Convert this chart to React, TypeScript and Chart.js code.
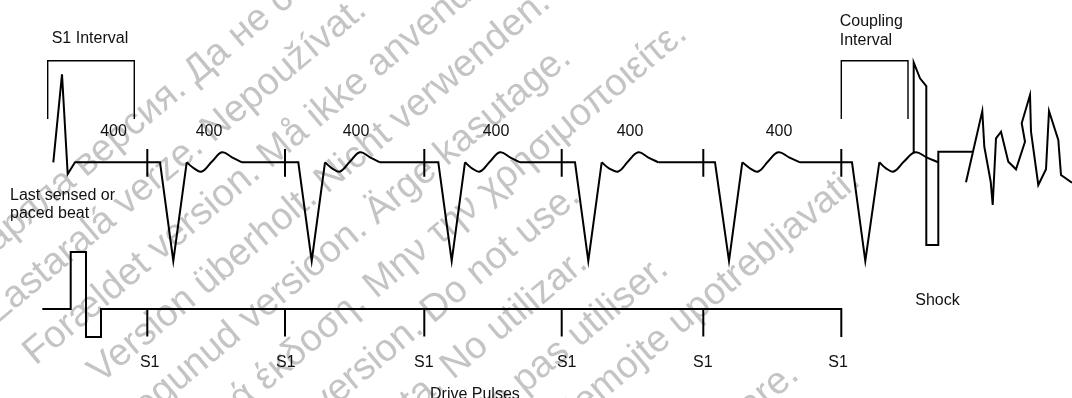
import React, { useEffect, useRef } from "react";
import { Chart, registerables } from "chart.js";

Chart.register(...registerables);

const W = 1072;
const H = 398;

// ---- upper trace: straight parts (null = pen lift) ----
const ecgX = [
  53.3, 62, 67.7, 75, 160, 173.3, 186.7, null,
  242, 298.3, 311.7, 325, null,
  380, 438.3, 451.7, 465, null,
  520, 575, 588.3, 601.7, null,
  658.3, 715, 729, 742.3, null,
  800, 852, 865.3, 879.3,
];
const ecgY = [
  162.3, 74.3, 174, 162.3, 162.3, 261, 162.3, null,
  162.3, 162.3, 261, 162.3, null,
  162.3, 162.3, 261, 162.3, null,
  162.3, 162.3, 261, 162.3, null,
  162.3, 162.3, 261, 162.3, null,
  162.3, 162.3, 261, 162.3,
];

// ---- T waves (smoothed) ----
const waveX = [
  186.7, 194, 201.7, 212, 222, 232, 242, null,
  325, 332, 340, 350, 360, 370, 380, null,
  465, 472, 480, 490, 500, 510, 520, null,
  601.7, 609, 618.3, 628, 638.3, 648, 658.3, null,
  742.3, 750, 758.3, 768, 778.3, 789, 800, null,
  879.3, 886, 893.7, 904, 915.3, 926.5, 938.3,
];
const waveY = [
  162.3, 168.3, 171.5, 161.5, 152.3, 157.3, 162.3, null,
  162.3, 168.3, 171.5, 161.5, 152.3, 157.3, 162.3, null,
  162.3, 168.3, 171.5, 161.5, 152.3, 157.3, 162.3, null,
  162.3, 168.3, 171.5, 161.5, 152.3, 157.3, 162.3, null,
  162.3, 168.3, 171.5, 161.5, 152.3, 157.3, 162.3, null,
  162.3, 168.3, 171.5, 161.5, 152.3, 157.3, 162.3,
];

// ---- shock pulse ----
const shockX = [913.7, 913.7, 920, 926.3, 926.3, 938.3, 938.3, 972.3];
const shockY = [153, 62.5, 78.3, 86, 245, 245, 151.7, 151.7];

// ---- fibrillation ----
const vfX = [966, 982.3, 984.3, 990.7, 992.7, 996, 1001, 1008.3, 1016, 1025, 1021.7, 1030, 1031, 1038.3, 1046, 1049, 1058.3, 1061, 1072];
const vfY = [182.3, 111, 146.7, 181.7, 205, 138.3, 131.7, 161.7, 169.3, 141.7, 123.3, 95, 131.7, 185, 169.3, 111, 140, 175, 182.7];

// ---- S1 tick marks (upper trace) and drive pulse ticks ----
const s1Ticks = [147.3, 285, 424.3, 561.7, 703.3, 841.3];
const upperTickTop = 149;
const upperTickBottom = 176.7;
const driveTickTop = 309;
const driveTickBottom = 336.5;

// ---- interval brackets ----
const bracketX = [47.7, 47.7, 134.3, 134.3, null, 841.3, 841.3, 908, 908];
const bracketY = [119, 60.7, 60.7, 119, null, 119, 60.7, 60.7, 119];

// ---- drive pulse trace ----
const driveX = [42.3, 70.7, 70.7, 86, 86, 101, 101, 841.3, 841.3];
const driveY = [309, 309, 252, 252, 337, 337, 309, 309, 337];

// ---- text ----
const intervalLabel = "400";
const intervalLabelX = [113.5, 209, 356, 496, 630, 779];
const s1Label = "S1";
const s1LabelX = [149.7, 285.8, 423.8, 566.7, 702.8, 838];

const annotations = [
  { text: "S1 Interval", x: 51.7, y: 42.7, align: "left" },
  { text: "Last sensed or", x: 10, y: 200.3, align: "left" },
  { text: "paced beat", x: 10, y: 218.3, align: "left" },
  { text: "Coupling", x: 839.7, y: 26, align: "left" },
  { text: "Interval", x: 839.7, y: 45, align: "left" },
  { text: "Shock", x: 915.3, y: 305.3, align: "left" },
  { text: "Drive Pulses", x: 430, y: 399, align: "left" },
];

// ---- watermark lines: first phrase, second phrase, junction point ----
const watermark = [
  { a: "Остаряла версия.", b: "Да не се използва.", x: 188, y: 92 },
  { a: "Zastaralá verze.", b: "Nepoužívat.", x: 205, y: 150 },
  { a: "Forældet version.", b: "Må ikke anvendes.", x: 262, y: 176 },
  { a: "Version überholt.", b: "Nicht verwenden.", x: 319, y: 201 },
  { a: "Aegunud versioon.", b: "Ärge kasutage.", x: 369, y: 232 },
  { a: "Παλιά έκδοση.", b: "Μην την χρησιμοποιείτε.", x: 368, y: 306 },
  { a: "Outdated version.", b: "Do not use.", x: 425, y: 331 },
  { a: "Versión obsoleta.", b: "No utilizar.", x: 445, y: 387 },
  { a: "Version obsolète.", b: "Ne pas utiliser.", x: 471, y: 439 },
  { a: "Zastarjela verzija.", b: "Nemojte upotrebljavati.", x: 556, y: 440 },
  { a: "Versione obsoleta.", b: "Non utilizzare.", x: 608, y: 539 },
];

const FONT = '"Liberation Sans", Arial, Helvetica, sans-serif';

const pts = (xs: (number | null)[], ys: (number | null)[]) =>
  xs.map((x, i) => ({ x: x ?? 0, y: ys[i] }));

const tickPts = (xs: number[], top: number, bottom: number) => {
  const out: { x: number; y: number | null }[] = [];
  xs.forEach((x) => {
    out.push({ x, y: top }, { x, y: bottom }, { x, y: null });
  });
  return out;
};

const watermarkPlugin = {
  id: "watermark",
  beforeDatasetsDraw(chart: any) {
    const { ctx, scales } = chart;
    ctx.save();
    ctx.fillStyle = "rgb(196,196,196)";
    ctx.font = `38px ${FONT}`;
    ctx.textBaseline = "alphabetic";
    for (const w of watermark) {
      ctx.save();
      ctx.translate(scales.x.getPixelForValue(w.x), scales.y.getPixelForValue(w.y));
      ctx.rotate((-40 * Math.PI) / 180);
      ctx.textAlign = "right";
      ctx.fillText(w.a, 0, 0);
      ctx.textAlign = "left";
      ctx.fillText(" " + w.b, 0, 0);
      ctx.restore();
    }
    ctx.restore();
  },
};

const labelPlugin = {
  id: "labels",
  afterDatasetsDraw(chart: any) {
    const { ctx, scales } = chart;
    const px = (v: number) => scales.x.getPixelForValue(v);
    const py = (v: number) => scales.y.getPixelForValue(v);
    ctx.save();
    ctx.fillStyle = "#111";
    ctx.font = `16px ${FONT}`;
    ctx.textBaseline = "alphabetic";
    for (const a of annotations) {
      ctx.textAlign = a.align;
      ctx.fillText(a.text, px(a.x), py(a.y));
    }
    ctx.textAlign = "center";
    intervalLabelX.forEach((x) => ctx.fillText(intervalLabel, px(x), py(136)));
    s1LabelX.forEach((x) => ctx.fillText(s1Label, px(x), py(367)));
    ctx.restore();
  },
};

export default function App() {
  const ref = useRef<HTMLCanvasElement>(null);

  useEffect(() => {
    if (!ref.current) return;
    const base = {
      showLine: true,
      pointRadius: 0,
      pointHoverRadius: 0,
      borderColor: "#000",
      backgroundColor: "#000",
      borderWidth: 2,
      fill: false,
      tension: 0,
      spanGaps: false,
      borderJoinStyle: "miter" as const,
    };
    const chart = new Chart(ref.current, {
      type: "scatter",
      data: {
        datasets: [
          { ...base, label: "ecg", data: pts(ecgX, ecgY) },
          { ...base, label: "twave", data: pts(waveX, waveY), tension: 0.4 },
          { ...base, label: "shock", data: pts(shockX, shockY) },
          { ...base, label: "vf", data: pts(vfX, vfY) },
          { ...base, label: "ticks", data: tickPts(s1Ticks, upperTickTop, upperTickBottom) },
          { ...base, label: "brackets", data: pts(bracketX, bracketY), borderWidth: 1.4 },
          { ...base, label: "drive", data: pts(driveX, driveY) },
          { ...base, label: "driveTicks", data: tickPts(s1Ticks.slice(0, 5), driveTickTop, driveTickBottom) },
        ] as any,
      },
      options: {
        responsive: false,
        maintainAspectRatio: false,
        animation: false,
        events: [],
        layout: { padding: 0 },
        plugins: { legend: { display: false }, tooltip: { enabled: false } },
        scales: {
          x: { type: "linear", min: 0, max: W, display: false },
          y: { type: "linear", min: 0, max: H, reverse: true, display: false },
        },
      },
      plugins: [watermarkPlugin, labelPlugin],
    });
    return () => chart.destroy();
  }, []);

  return (
    <div style={{ position: "fixed", left: 0, top: 0, width: W, height: H, background: "#fff" }}>
      <canvas ref={ref} width={W} height={H} style={{ display: "block", width: W, height: H }} />
    </div>
  );
}
